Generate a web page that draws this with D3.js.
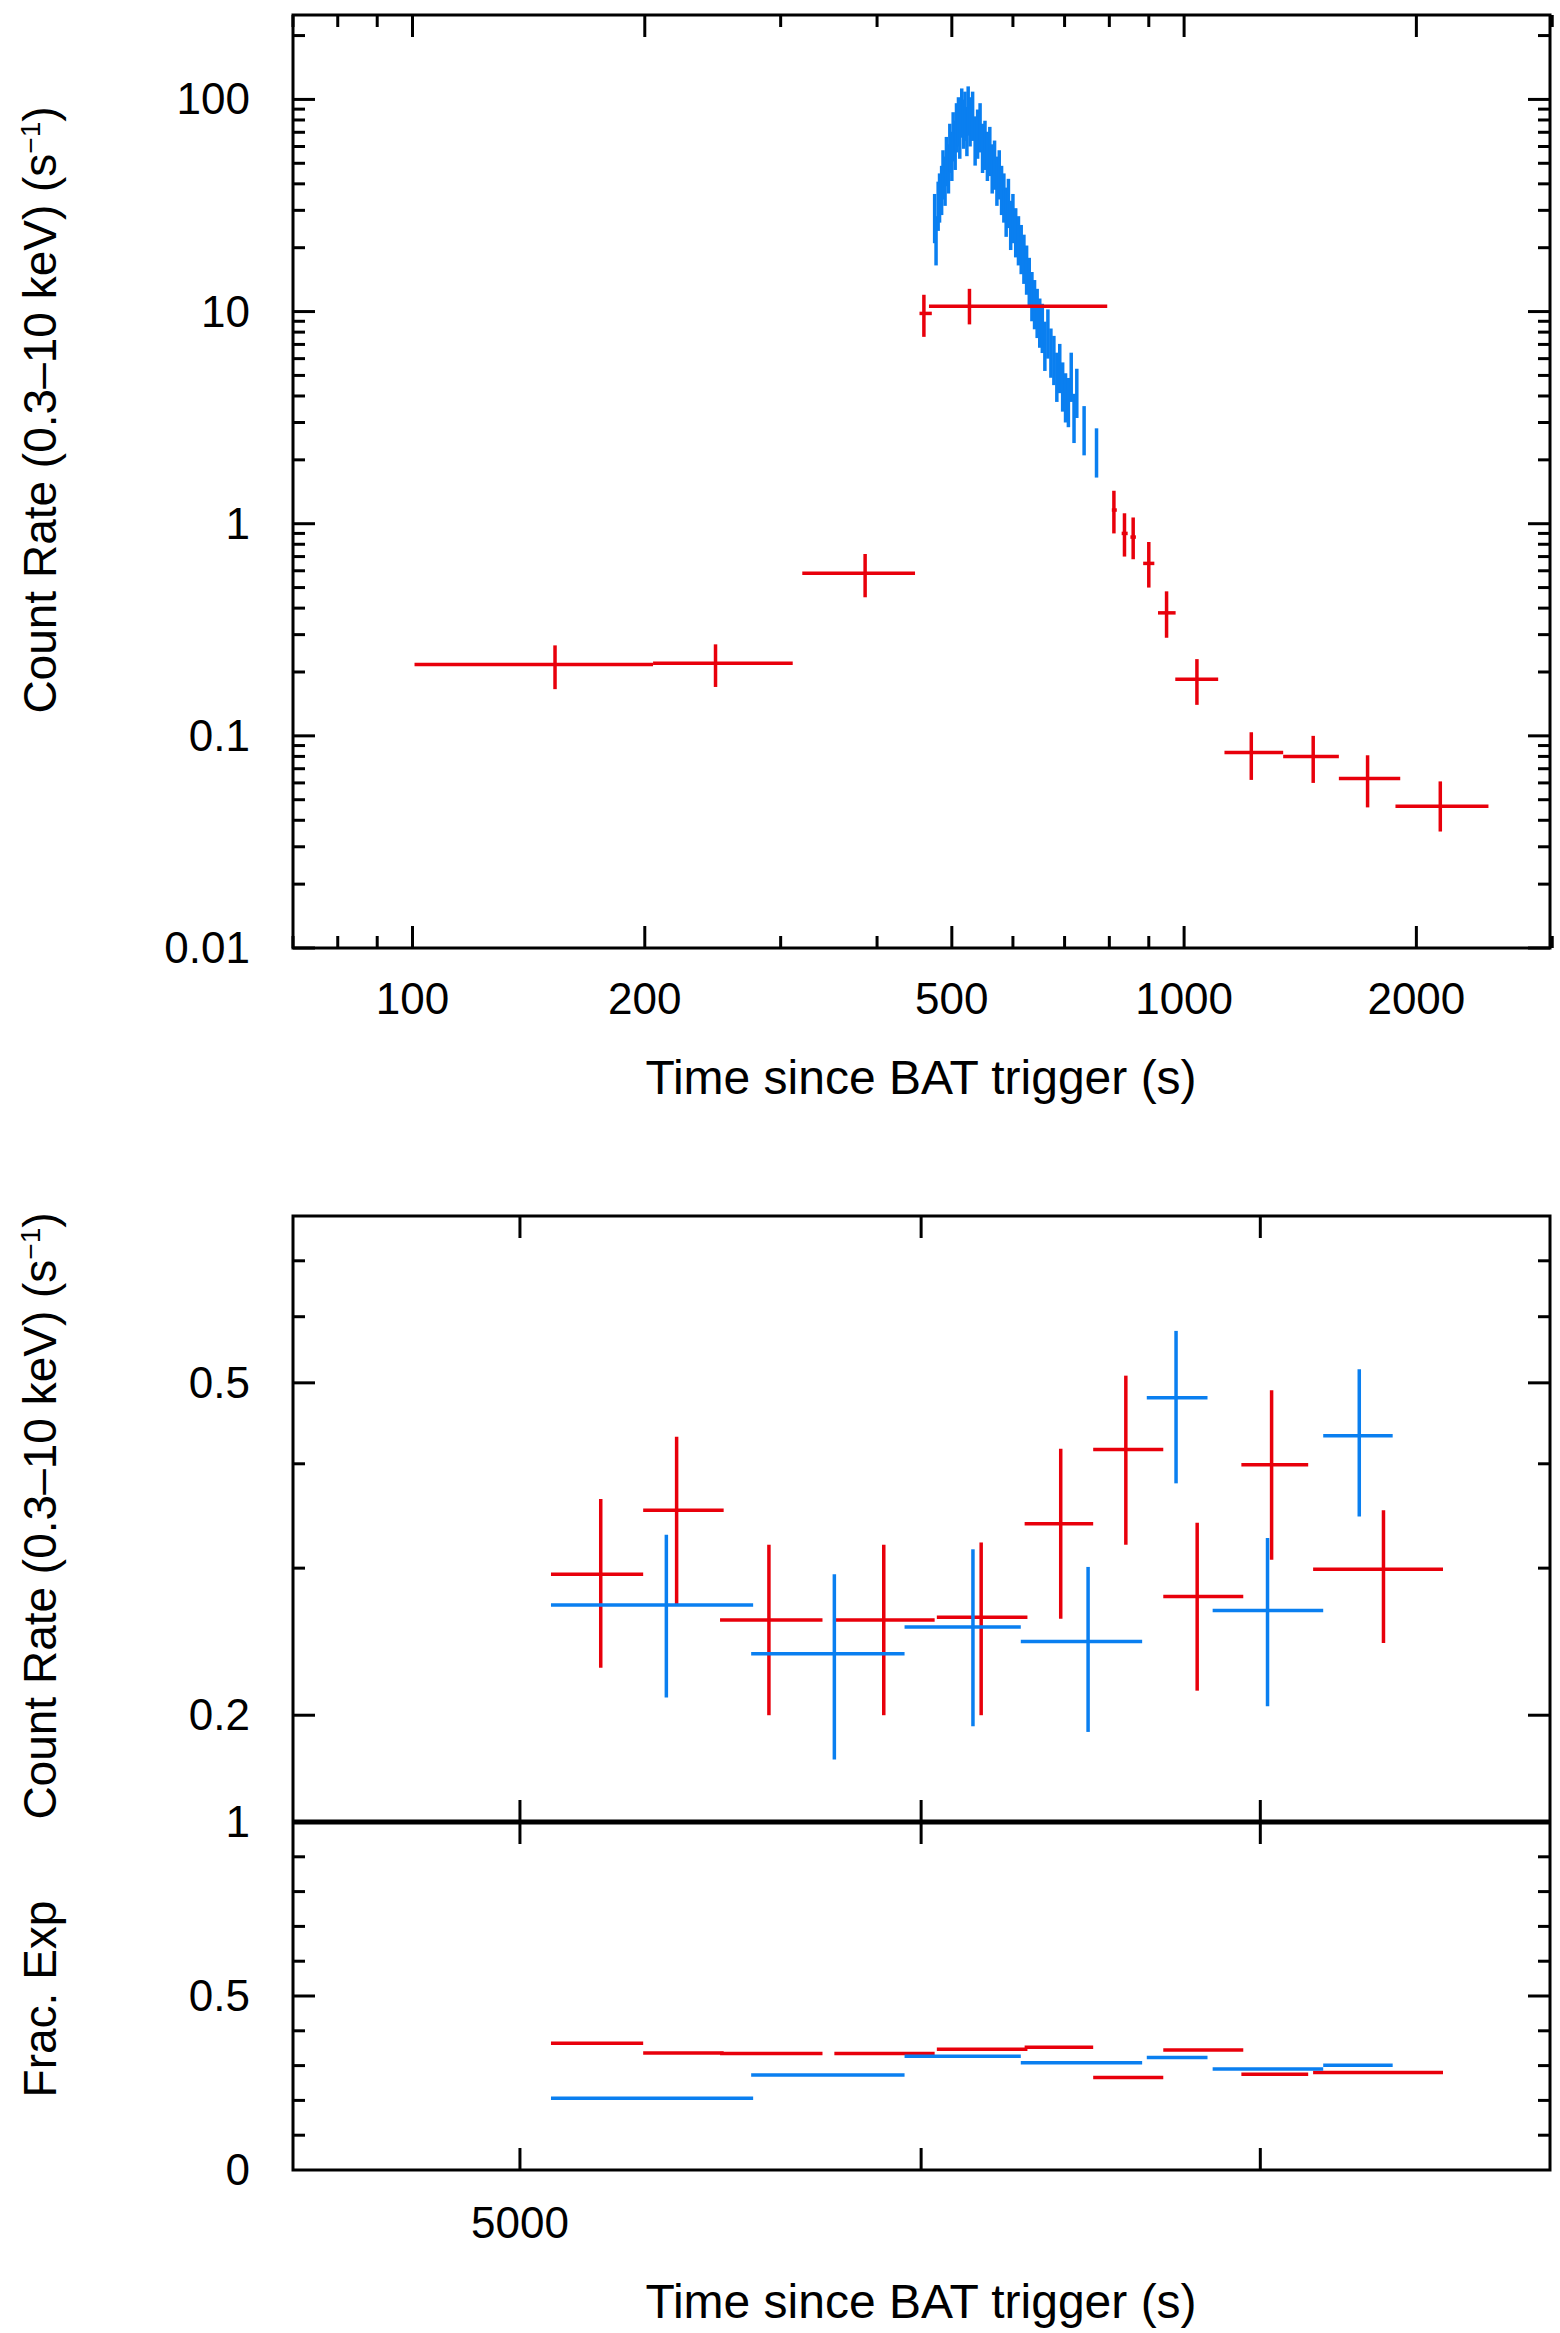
<!DOCTYPE html>
<html><head><meta charset="utf-8">
<script src="https://cdn.jsdelivr.net/npm/d3@7"></script>
<style>body{margin:0;background:#fff}</style></head>
<body><svg id="c" width="1560" height="2333"></svg>
<script>
// ---- Top panel data ----
const topRedT    = [153,247,386,460,527,811,837,859,900,949,1039,1222,1470,1729,2148];
const topRedTlo  = [100.6,205,320,454,467,806,830,852,885,925,974,1128,1344,1587,1879];
const topRedThi  = [205,311,448,471,795,818,845,866,915,975,1107,1344,1587,1906,2480];
const topRedR    = [0.217,0.22,0.584,9.8,10.6,1.16,0.9,0.865,0.65,0.38,0.185,0.0835,0.08,0.063,0.0466];
const topRedRlo  = [0.166,0.17,0.45,7.6,8.7,0.9,0.7,0.68,0.5,0.29,0.14,0.062,0.06,0.046,0.0354];
const topRedRhi  = [0.267,0.27,0.72,12.0,12.8,1.43,1.12,1.07,0.82,0.48,0.23,0.104,0.10,0.081,0.061];
const topBlueT = [475,477,480,482,485,487,490,492,495,497,500,502,505,507,510,512,515,518,520,523,525,
  528,532,536,540,544,548,552,556,560,564,568,572,576,580,584,588,592,596,600,605,610,615,620,625,630,635,640,645,650,655,660,666,672,678,684,690,696,702,708,714,720,726,742,770];
const topBlueR = [28,22,32,35,38,45,42,52,48,60,55,68,62,75,80,70,88,78,85,72,90,
  80,85,65,70,75,60,62,55,58,48,50,42,45,38,35,30,33,26,28,24,22,20,18,16,14,12,11,10,9,8.5,7,8,6.5,6,5,5.5,4.5,4,3.8,5,3.2,4.2,2.8,2.2];
const topXTicksMajor = [100,200,500,1000,2000];
const topXTicksMinor = [70,80,90,300,400,600,700,800,900,3000];
const topYTickLabels = ["0.01","0.1","1","10","100"];

// ---- Bottom panel data ----
const botRedT   = [5187,5369,5599,5899,6166,6393,6585,6802,7036,7403];
const botRedTlo = [5071,5288,5476,5768,6043,6289,6488,6698,6940,7170];
const botRedThi = [5288,5485,5737,6037,6297,6488,6698,6946,7154,7606];
const botRedR   = [0.295,0.352,0.26,0.26,0.262,0.339,0.416,0.2775,0.399,0.299];
const botRedRlo = [0.228,0.271,0.20,0.20,0.20,0.261,0.32,0.214,0.307,0.244];
const botRedRhi = [0.363,0.431,0.32,0.32,0.322,0.417,0.51,0.34,0.49,0.352];
const botRedFrac= [0.364,0.336,0.335,0.335,0.347,0.353,0.266,0.345,0.275,0.28];
const botBlueT   = [5344,5768,6143,6473,6737,7023,7322];
const botBlueTlo = [5071,5554,5955,6278,6648,6850,7203];
const botBlueThi = [5559,5955,6278,6634,6834,7203,7434];
const botBlueR   = [0.271,0.237,0.255,0.245,0.48,0.267,0.432];
const botBlueRlo = [0.21,0.177,0.194,0.191,0.379,0.205,0.346];
const botBlueRhi = [0.329,0.295,0.316,0.301,0.577,0.326,0.519];
const botBlueFrac= [0.206,0.273,0.327,0.308,0.323,0.290,0.301];
const botXTicks = [5000,6000,7000];
const botXTickLabels = ["5000","",""];

const RED="#e8000b", BLUE="#0a7ff0";
const svg=d3.select("#c");
const FONT="'Liberation Sans Narrow','Liberation Sans',Arial,sans-serif";
const L=293,R=1550;

function frame(x0,y0,x1,y1,w){svg.append("rect").attr("x",x0).attr("y",y0).attr("width",x1-x0).attr("height",y1-y0).attr("fill","none").attr("stroke","#000").attr("stroke-width",w||3);}
function tick(x1,y1,x2,y2){svg.append("line").attr("x1",x1).attr("y1",y1).attr("x2",x2).attr("y2",y2).attr("stroke","#000").attr("stroke-width",3);}
function text(x,y,s,anchor,size,rot){const t=svg.append("text").attr("x",x).attr("y",y).attr("text-anchor",anchor).attr("font-family",FONT).attr("font-size",size).text(s);if(rot)t.attr("transform",`rotate(-90,${x},${y})`);return t;}
function cross(x,y,tl,th,t,rl,rh,r,color,w){
  svg.append("line").attr("x1",x(tl)).attr("x2",x(th)).attr("y1",y(r)).attr("y2",y(r)).attr("stroke",color).attr("stroke-width",w);
  svg.append("line").attr("x1",x(t)).attr("x2",x(t)).attr("y1",y(rl)).attr("y2",y(rh)).attr("stroke",color).attr("stroke-width",w);
}

// ---- Top ----
const T0=15,T1=948;
const xT=d3.scaleLog().domain([70,2980]).range([L,R]);
const yT=d3.scaleLog().domain([0.01,250]).range([T1,T0]);
topBlueT.forEach((t,i)=>{const r=topBlueR[i];cross(xT,yT,t-1.3,t+1.3,t,r*0.75,r*1.28,r,BLUE,3.5);});
topRedT.forEach((t,i)=>cross(xT,yT,topRedTlo[i],topRedThi[i],t,topRedRlo[i],topRedRhi[i],topRedR[i],RED,3.5));
frame(L,T0,R,T1);
topXTicksMajor.forEach(v=>{const x=xT(v);tick(x,T1,x,T1-22);tick(x,T0,x,T0+22);});
topXTicksMinor.forEach(v=>{const x=xT(v);tick(x,T1,x,T1-12);tick(x,T0,x,T0+12);});
topXTicksMajor.forEach(v=>text(xT(v),1014,String(v),"middle",44));
[0.01,0.1,1,10,100].forEach((d,i)=>{const y=yT(d);tick(L,y,L+22,y);tick(R,y,R-22,y);text(250,y+15,topYTickLabels[i],"end",44);
  if(d<200)for(let k=2;k<=9;k++){const v=d*k;if(v>250)break;const yy=yT(v);tick(L,yy,L+12,yy);tick(R,yy,R-12,yy);}});
text(56,410,"","middle",46,true).call(t=>{t.append("tspan").text("Count Rate (0.3–10 keV) (s");t.append("tspan").attr("font-size",28).attr("dy",-16).text("−1");t.append("tspan").attr("dy",16).text(")");});
text(921,1094,"Time since BAT trigger (s)","middle",48);

// ---- Bottom ----
const B0=1216,BM=1822,B1=2170;
const xB=d3.scaleLog().domain([4510,7985]).range([L,R]);
const yB=d3.scaleLog().domain([0.149,0.792]).range([BM,B0]);
const yF=d3.scaleLinear().domain([0,1]).range([B1,BM]);
botRedT.forEach((t,i)=>cross(xB,yB,botRedTlo[i],botRedThi[i],t,botRedRlo[i],botRedRhi[i],botRedR[i],RED,3.5));
botBlueT.forEach((t,i)=>cross(xB,yB,botBlueTlo[i],botBlueThi[i],t,botBlueRlo[i],botBlueRhi[i],botBlueR[i],BLUE,3.5));
botRedT.forEach((t,i)=>svg.append("line").attr("x1",xB(botRedTlo[i])).attr("x2",xB(botRedThi[i])).attr("y1",yF(botRedFrac[i])).attr("y2",yF(botRedFrac[i])).attr("stroke",RED).attr("stroke-width",3.5));
botBlueT.forEach((t,i)=>svg.append("line").attr("x1",xB(botBlueTlo[i])).attr("x2",xB(botBlueThi[i])).attr("y1",yF(botBlueFrac[i])).attr("y2",yF(botBlueFrac[i])).attr("stroke",BLUE).attr("stroke-width",3.5));
frame(L,B0,R,B1);
svg.append("line").attr("x1",L).attr("x2",R).attr("y1",BM).attr("y2",BM).attr("stroke","#000").attr("stroke-width",5);
botXTicks.forEach((v,i)=>{const x=xB(v);tick(x,B0,x,B0+22);tick(x,BM-22,x,BM+22);tick(x,B1,x,B1-22);if(botXTickLabels[i])text(x,2238,botXTickLabels[i],"middle",44);});
[0.2,0.5].forEach(v=>{const y=yB(v);tick(L,y,L+22,y);tick(R,y,R-22,y);text(250,y+15,String(v),"end",44);});
[0.3,0.4,0.6,0.7].forEach(v=>{const y=yB(v);tick(L,y,L+12,y);tick(R,y,R-12,y);});
for(let k=1;k<=9;k++){const v=k/10;const y=yF(v);const w=k===5?22:12;tick(L,y,L+w,y);tick(R,y,R-w,y);}
[["0",0],["0.5",0.5],["1",1]].forEach(([s,v])=>text(250,yF(v)+15,s,"end",44));
text(56,1516,"","middle",46,true).call(t=>{t.append("tspan").text("Count Rate (0.3–10 keV) (s");t.append("tspan").attr("font-size",28).attr("dy",-16).text("−1");t.append("tspan").attr("dy",16).text(")");});
text(56,1999,"Frac. Exp","middle",46,true);
text(921,2318,"Time since BAT trigger (s)","middle",48);
</script></body></html>
